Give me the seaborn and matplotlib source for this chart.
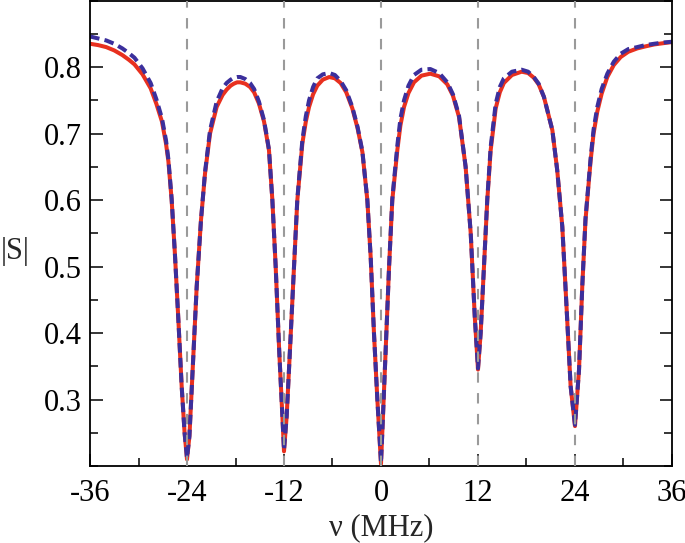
import pandas as pd
import seaborn as sns
import matplotlib.pyplot as plt
from matplotlib.ticker import MultipleLocator

# values
nu = [-36, -35, -34, -33, -32, -31.2, -30.5, -29.5, -28.5, -27.8, -27.1, -26.6, -26.3, -25.9, -25.5,
      -25.07, -24.66, -24.3, -24.0, -23.7, -23.3, -22.8, -22.27, -21.77, -21.15,
      -20.33, -19.6, -19.1, -18.6, -18.2, -17.8, -17.4, -16.8, -16.2, -15.7, -15.1, -14.47, -13.86, -13.44, -13.03,
      -12.6, -12.2, -12.0, -11.67, -11.26, -10.76, -10.35, -9.73, -9.3, -8.9, -8.4, -7.88,
      -7.2, -6.4, -5.7, -5.0, -4.3, -3.55, -2.9, -2.3, -1.69, -1.28, -0.87, -0.45, 0.0, 0.16, 0.58, 1.0,
      1.4, 2.02, 2.4, 2.85, 3.4, 4.08, 5.0, 6.1, 7.2, 8.2, 8.9, 9.65, 10.47, 11.1, 11.6, 12.0, 12.33,
      12.74, 13.15, 13.57, 14.19, 14.7, 15.2, 16.2, 17.4, 18.2, 18.9, 19.5, 20.16, 21.2, 21.8, 22.43,
      22.93, 23.46, 24.0, 24.5, 24.9, 25.3, 25.94, 26.3, 26.76, 27.3, 28.0, 28.8, 29.65, 30.6, 31.7,
      32.7, 33.8, 35, 36]
s_red = [0.835, 0.833, 0.830, 0.825, 0.818, 0.811, 0.804, 0.789, 0.768, 0.745, 0.718, 0.685, 0.658, 0.600, 0.520,
         0.420, 0.320, 0.250, 0.210, 0.245, 0.345, 0.470, 0.570, 0.640, 0.700,
         0.740, 0.758, 0.766, 0.772, 0.775, 0.777, 0.777, 0.775, 0.770, 0.762, 0.745, 0.718, 0.675, 0.600, 0.500,
         0.375, 0.275, 0.222, 0.275, 0.375, 0.500, 0.600, 0.685, 0.718, 0.740, 0.759, 0.772,
         0.781, 0.785, 0.783, 0.776, 0.762, 0.738, 0.708, 0.672, 0.600, 0.515, 0.400, 0.300, 0.203, 0.250, 0.375, 0.500,
         0.600, 0.675, 0.712, 0.740, 0.761, 0.777, 0.787, 0.790, 0.786, 0.774, 0.757, 0.725, 0.650, 0.550, 0.425, 0.345, 0.400,
         0.500, 0.600, 0.675, 0.738, 0.762, 0.776, 0.788, 0.793, 0.791, 0.784, 0.774, 0.755, 0.705, 0.645, 0.560,
         0.445, 0.320, 0.260, 0.345, 0.470, 0.570, 0.660, 0.700, 0.733, 0.760, 0.785, 0.803, 0.815, 0.823, 0.828,
         0.831, 0.834, 0.836, 0.8375]
s_blue = [0.846, 0.843, 0.840, 0.835, 0.828, 0.821, 0.814, 0.798, 0.776, 0.752, 0.723, 0.690, 0.661, 0.602, 0.520,
          0.420, 0.320, 0.250, 0.212, 0.245, 0.345, 0.470, 0.570, 0.642, 0.705,
          0.748, 0.768, 0.776, 0.781, 0.784, 0.785, 0.785, 0.782, 0.776, 0.767, 0.748, 0.720, 0.676, 0.600, 0.500,
          0.375, 0.275, 0.224, 0.275, 0.375, 0.500, 0.602, 0.690, 0.726, 0.750, 0.770, 0.783,
          0.789, 0.791, 0.788, 0.779, 0.765, 0.740, 0.710, 0.673, 0.600, 0.515, 0.400, 0.300, 0.205, 0.250, 0.375, 0.500,
          0.602, 0.682, 0.722, 0.750, 0.772, 0.788, 0.796, 0.797, 0.791, 0.777, 0.759, 0.727, 0.650, 0.550, 0.425, 0.347, 0.400,
          0.500, 0.602, 0.680, 0.745, 0.770, 0.783, 0.793, 0.796, 0.793, 0.785, 0.775, 0.755, 0.705, 0.645, 0.560,
          0.445, 0.320, 0.262, 0.345, 0.470, 0.572, 0.664, 0.706, 0.740, 0.767, 0.790, 0.808, 0.820, 0.827, 0.830,
          0.833, 0.835, 0.837, 0.838]
resonances = [-24, -12, 0, 12, 24]
x_ticks = [-36, -24, -12, 0, 12, 24, 36]
y_ticks = [0.3, 0.4, 0.5, 0.6, 0.7, 0.8]

df = pd.DataFrame({"nu": nu, "red": s_red, "blue": s_blue})

sns.set_style("ticks")
plt.rcParams["font.family"] = ["Liberation Serif", "DejaVu Serif"]

fig = plt.figure(figsize=(6.85, 5.43), dpi=100)
ax = fig.add_axes([0.1314, 0.1418, 0.8496, 0.8572])

for v in resonances:
    ax.axvline(v, color="#9a9a9a", lw=1.5, dashes=(5, 5), zorder=3)

sns.lineplot(data=df, x="nu", y="red", ax=ax, color="#e8301f", lw=2.9, zorder=1)
sns.lineplot(data=df, x="nu", y="blue", ax=ax, color="#3b2f9c", lw=2.9, zorder=2)
ax.lines[-1].set_dashes((2.4, 1.3))

ax.set_xlim(-36, 36)
ax.set_ylim(0.2, 0.9)
ax.set_xticks(x_ticks)
ax.set_xticklabels([str(t) for t in x_ticks])
ax.set_yticks(y_ticks)
ax.xaxis.set_minor_locator(MultipleLocator(6))
ax.yaxis.set_minor_locator(MultipleLocator(0.05))

ax.tick_params(which="both", direction="in", right=True, width=1.1, colors="black",
               labelsize=22)
ax.tick_params(which="major", length=9)
ax.tick_params(which="minor", length=6)
ax.tick_params(axis="x", pad=9)
ax.tick_params(axis="y", pad=6)
for sp in ax.spines.values():
    sp.set_linewidth(1.3)
    sp.set_color("black")

ax.set_xlabel("ν (MHz)", fontsize=22, labelpad=4)
ax.set_ylabel("|S|", fontsize=22, rotation=0)
ax.yaxis.set_label_coords(-0.128, 0.43)

fig.savefig("out.png", dpi=100)
